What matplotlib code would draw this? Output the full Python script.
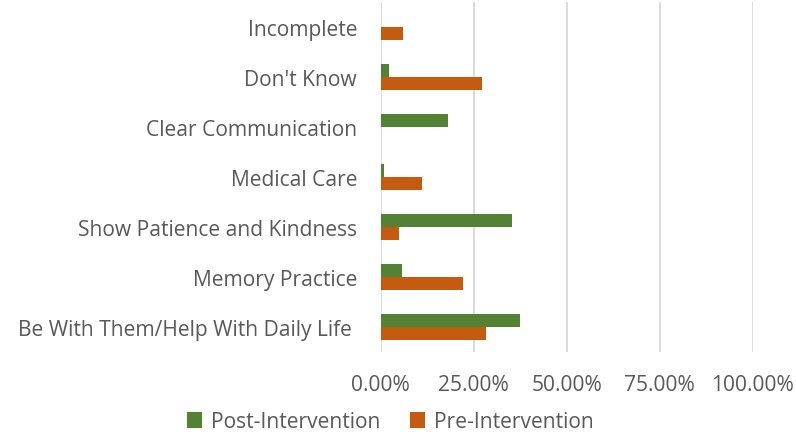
import numpy as np
import matplotlib.pyplot as plt

categories = ["Incomplete", "Don't Know", "Clear Communication", "Medical Care",
              "Show Patience and Kindness", "Memory Practice",
              "Be With Them/Help With Daily Life "]
post = [0.0, 2.1, 18.2, 1.0, 35.2, 5.6, 37.4]
pre = [6.1, 27.1, 0.0, 11.0, 4.8, 22.0, 28.3]
xticks = [0, 25, 50, 75, 100]

plt.rcParams['font.family'] = ['Open Sans', 'DejaVu Sans']
txt = '#595959'
fs = 15.1

fig = plt.figure(figsize=(7.96, 4.35), dpi=100)
ax = fig.add_axes([0.4783, 0.1885, 0.4673, 0.8046])

y = np.arange(len(categories))
h = 0.26
ax.barh(y - h/2, post, height=h, color='#548235', label='Post-Intervention', zorder=3)
ax.barh(y + h/2, pre, height=h, color='#C55A11', label='Pre-Intervention', zorder=3)

ax.set_xlim(0, 100)
ax.set_ylim(len(categories) - 0.5, -0.5)
ax.set_xticks(xticks)
ax.set_xticklabels(['%.2f%%' % t for t in xticks], fontsize=fs, color=txt)
ax.set_yticks(y)
ax.set_yticklabels(categories, fontsize=fs, color=txt)
ax.tick_params(length=0, pad=17, axis='y')
ax.tick_params(length=0, pad=16, axis='x')
ax.grid(axis='x', color='#D9D9D9', lw=1.3, zorder=0)
for s in ax.spines.values():
    s.set_visible(False)

fig.legend(loc='lower center', bbox_to_anchor=(0.49, -0.03), ncol=2, frameon=False,
           fontsize=fs, labelcolor=txt, handlelength=0.75, handleheight=0.75,
           handletextpad=0.4, columnspacing=1.4, borderpad=0.2)

fig.savefig('out.png', dpi=100)
